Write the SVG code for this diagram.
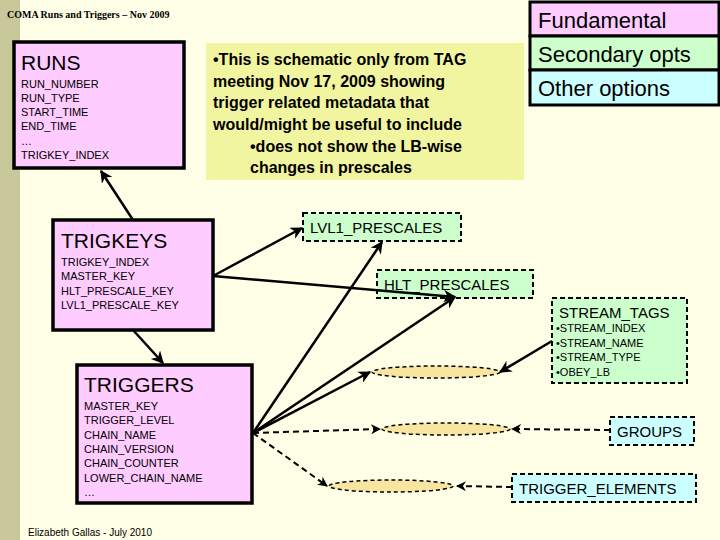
<svg xmlns="http://www.w3.org/2000/svg" width="720" height="540" viewBox="0 0 720 540">
<style>
.t{font-family:"Liberation Sans",Arial,sans-serif;fill:#000}
.fund{fill:#ffccff;stroke:#000;stroke-width:3.5}
.sec{fill:#ccffcc;stroke:#000;stroke-width:2;stroke-dasharray:5,3}
.oth{fill:#ccffff;stroke:#000;stroke-width:2;stroke-dasharray:5,3}
.ell{fill:#f8e6a0;stroke:#000;stroke-width:1.5;stroke-dasharray:4,3}
.c{stroke:#000;stroke-width:2.5;fill:none;marker-end:url(#a)}
.d{stroke:#000;stroke-width:2;fill:none;stroke-dasharray:6,4;marker-end:url(#a)}
</style>
<defs><marker id="a" viewBox="0 0 10 10" refX="9" refY="5" markerWidth="5" markerHeight="5" orient="auto" markerUnits="strokeWidth"><path d="M0,0L10,5L0,10L3,5z" fill="#000"/></marker></defs>
<rect width="720" height="540" fill="#ffffe8"/>
<rect width="20" height="540" fill="#c8c89a"/>
<text class="t" x="7" y="18" style="font-family:'Liberation Serif',serif;font-weight:bold;font-size:10px">COMA Runs and Triggers – Nov 2009</text>
<g id="note"><rect x="206" y="43" width="318" height="137" fill="#f2f5a0"/>
<text class="t" font-weight="bold" font-size="16"><tspan x="213" y="65">•This is schematic only from TAG</tspan><tspan x="213" y="87">meeting Nov 17, 2009 showing</tspan><tspan x="213" y="108">trigger related metadata that</tspan><tspan x="213" y="130">would/might be useful to include</tspan><tspan x="250" y="152">•does not show the LB-wise</tspan><tspan x="250" y="173">changes in prescales</tspan></text></g>
<g id="legend" stroke="#000" stroke-width="3">
<rect x="530" y="2" width="189" height="34" fill="#ffccff"/><rect x="530" y="36" width="189" height="34" fill="#ccffcc"/><rect x="530" y="70" width="189" height="35" fill="#ccffff"/></g>
<g class="t" font-size="22"><text x="538" y="28">Fundamental</text><text x="538" y="62">Secondary opts</text><text x="538" y="96">Other options</text></g>
<g id="runs"><rect class="fund" x="14" y="42" width="170" height="126"/>
<text class="t" x="21" y="70" font-size="21">RUNS</text>
<text class="t" font-size="11"><tspan x="21" y="88">RUN_NUMBER</tspan><tspan x="21" y="102">RUN_TYPE</tspan><tspan x="21" y="116">START_TIME</tspan><tspan x="21" y="130">END_TIME</tspan><tspan x="21" y="145">…</tspan><tspan x="21" y="159">TRIGKEY_INDEX</tspan></text></g>
<g id="trigkeys"><rect class="fund" x="53" y="220" width="160" height="110"/>
<text class="t" x="61" y="248" font-size="21">TRIGKEYS</text>
<text class="t" font-size="11"><tspan x="61" y="266">TRIGKEY_INDEX</tspan><tspan x="61" y="280">MASTER_KEY</tspan><tspan x="61" y="295">HLT_PRESCALE_KEY</tspan><tspan x="61" y="309">LVL1_PRESCALE_KEY</tspan></text></g>
<g id="triggers"><rect class="fund" x="77" y="365" width="175" height="138"/>
<text class="t" x="84" y="392" font-size="21">TRIGGERS</text>
<text class="t" font-size="11"><tspan x="84" y="410">MASTER_KEY</tspan><tspan x="84" y="424">TRIGGER_LEVEL</tspan><tspan x="84" y="439">CHAIN_NAME</tspan><tspan x="84" y="453">CHAIN_VERSION</tspan><tspan x="84" y="467">CHAIN_COUNTER</tspan><tspan x="84" y="482">LOWER_CHAIN_NAME</tspan><tspan x="84" y="496">…</tspan></text></g>
<g id="lvl1"><rect class="sec" x="303" y="213" width="158" height="28"/><text class="t" x="310" y="233" font-size="15">LVL1_PRESCALES</text></g>
<g id="hlt"><rect class="sec" x="377" y="270" width="156" height="28"/><text class="t" x="384" y="290" font-size="15">HLT_PRESCALES</text></g>
<g id="stream"><rect class="sec" x="552" y="298" width="135" height="85"/>
<text class="t" x="559" y="318" font-size="15">STREAM_TAGS</text>
<text class="t" font-size="11"><tspan x="556" y="332">•STREAM_INDEX</tspan><tspan x="556" y="347">•STREAM_NAME</tspan><tspan x="556" y="361">•STREAM_TYPE</tspan><tspan x="556" y="376">•OBEY_LB</tspan></text></g>
<g id="groups"><rect class="oth" x="610" y="417" width="84" height="28"/><text class="t" x="617" y="437" font-size="15">GROUPS</text></g>
<g id="te"><rect class="oth" x="512" y="474" width="184" height="28"/><text class="t" x="519" y="494" font-size="15">TRIGGER_ELEMENTS</text></g>
<g id="e1"><ellipse class="ell" cx="436" cy="372" rx="64" ry="6"/></g>
<g id="e2"><ellipse class="ell" cx="446" cy="429" rx="64" ry="6"/></g>
<g id="e3"><ellipse class="ell" cx="391" cy="486" rx="62" ry="6"/></g>
<g id="connectors">
<path class="c" d="M133,220L101,171"/>
<path class="c" d="M133,330L163,363"/>
<path class="c" d="M213,276L302,228"/>
<path class="c" d="M213,276L455,297"/>
<path class="c" d="M253,433L382,242"/>
<path class="c" d="M253,433L455,297"/>
<path class="c" d="M253,433L370,372"/>
<path class="d" d="M253,433L380,429"/>
<path class="d" d="M253,433L327,486"/>
<path class="c" d="M552,341L500,372"/>
<path class="d" d="M610,430L512,429"/>
<path class="d" d="M512,487L457,486"/>
</g>
<text class="t" x="28" y="536" font-size="10">Elizabeth Gallas - July 2010</text>
</svg>
